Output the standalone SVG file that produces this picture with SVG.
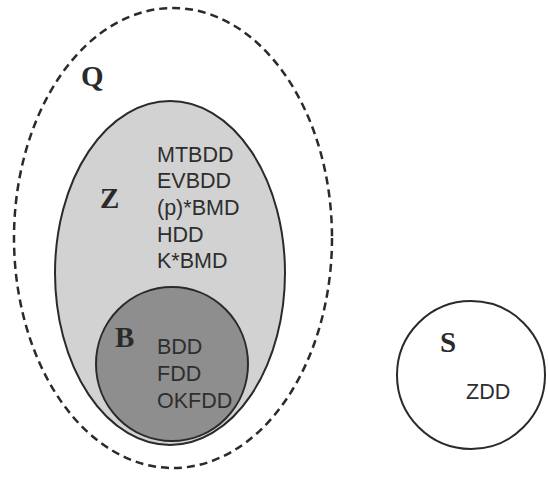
<svg xmlns="http://www.w3.org/2000/svg" width="548" height="478" viewBox="0 0 548 478">
<style>
.lbl{font-family:"Liberation Serif",serif;font-weight:bold;font-size:29px;fill:#2a2a2a}
.item{font-family:"Liberation Sans",Arial,sans-serif;font-size:21.5px;fill:#2e2e2e}
.set{stroke:#2a2a2a;stroke-width:2}
</style>
<rect width="548" height="478" fill="#ffffff"/>
<g id="Q">
<ellipse cx="173" cy="238" rx="159" ry="230" fill="none" stroke="#2a2a2a" stroke-width="2.5" stroke-dasharray="8 5"/>
<text class="lbl" x="81" y="86">Q</text>
</g>
<g id="Z">
<ellipse class="set" cx="170" cy="273" rx="115" ry="172" fill="#d2d2d2"/>
<text class="lbl" x="100" y="208">Z</text>
<text class="item" x="157" y="162">MTBDD</text>
<text class="item" x="157" y="188">EVBDD</text>
<text class="item" x="157" y="215">(p)*BMD</text>
<text class="item" x="157" y="242">HDD</text>
<text class="item" x="157" y="268">K*BMD</text>
</g>
<g id="B">
<ellipse class="set" cx="172" cy="364" rx="76" ry="77" fill="#8e8e8e"/>
<text class="lbl" x="115" y="347">B</text>
<text class="item" x="157" y="354">BDD</text>
<text class="item" x="157" y="381">FDD</text>
<text class="item" x="157" y="408">OKFDD</text>
</g>
<g id="S">
<circle class="set" cx="471" cy="375" r="74" fill="#ffffff"/>
<text class="lbl" x="440" y="352">S</text>
<text class="item" x="466" y="399">ZDD</text>
</g>
<g id="connectors"/>
</svg>
